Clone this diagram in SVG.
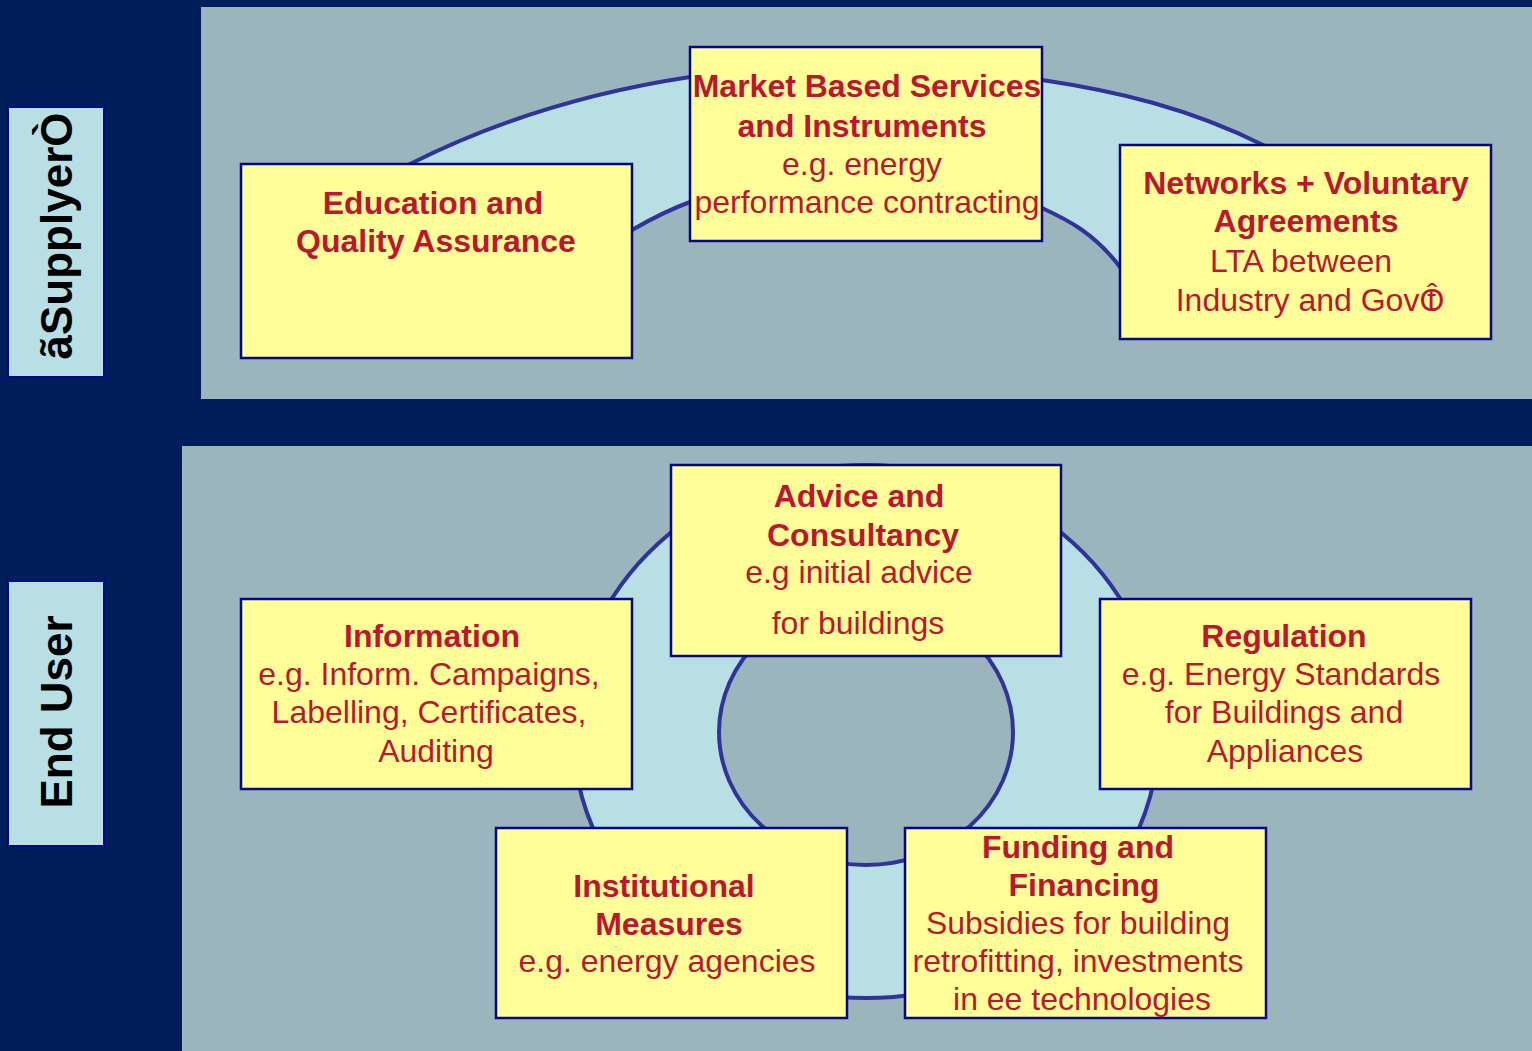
<svg xmlns="http://www.w3.org/2000/svg" width="1532" height="1051" viewBox="0 0 1532 1051">
  <style>
    .panel { fill: #9AB5BC; }
    .tag { fill: #B8DFE3; stroke: #06068C; stroke-width: 2; }
    .tagtext { font-family: "Liberation Sans", Arial, sans-serif; font-weight: bold; font-size: 44px; fill: #000000; }
    .ring { fill: #B8DFE3; stroke: #32339A; stroke-width: 4; stroke-linejoin: round; }
    .box { fill: #FFFF99; stroke: #06068C; stroke-width: 2.5; }
    .t { font-family: "Liberation Sans", Arial, sans-serif; font-size: 32px; fill: #BE1630; text-anchor: middle; }
    .b { font-weight: bold; }
  </style>

  <!-- background and panels -->
  <rect x="0" y="0" width="1532" height="1051" fill="#001E5A"/>
  <rect class="panel" x="201" y="7" width="1331" height="392"/>
  <rect class="panel" x="182" y="446" width="1350" height="605"/>

  <!-- side tags -->
  <g id="tag-supplyer">
    <rect class="tag" x="8" y="107" width="96" height="270"/>
    <text class="tagtext" text-anchor="middle" transform="translate(72,236) rotate(-90)">ãSupplyerÒ</text>
  </g>
  <g id="tag-enduser">
    <rect class="tag" x="8" y="581" width="96" height="265"/>
    <text class="tagtext" text-anchor="middle" transform="translate(72,712) rotate(-90)">End User</text>
  </g>

  <!-- rings behind the boxes -->
  <g id="rings">
    <path class="ring" d="M 370,184 L 412,163 C 505,116.5 597,91 690,77 C 807,59 925,62 1042,80 C 1116,91 1189,108 1263,145 L 1310,170 L 1140,300 L 1120,267 C 1094,233 1068,220 1042,208 C 950,175 780,172 690,202 C 671,209 651,219 632,230 L 580,262 Z"/>
    <path class="ring" fill-rule="evenodd" d="M 573,731.5 A 293,266.5 0 1,0 1159,731.5 A 293,266.5 0 1,0 573,731.5 Z M 719,732 A 147,133 0 1,0 1013,732 A 147,133 0 1,0 719,732 Z"/>
  </g>

  <!-- supplier level -->
  <g id="node-education">
    <rect class="box" x="241" y="164" width="391" height="194"/>
    <text class="t b" x="433" y="214">Education and</text>
    <text class="t b" x="436" y="252">Quality Assurance</text>
  </g>
  <g id="node-market">
    <rect class="box" x="690" y="47" width="352" height="194"/>
    <text class="t b" x="867" y="97">Market Based Services</text>
    <text class="t b" x="862" y="137">and Instruments</text>
    <text class="t" x="862" y="175">e.g. energy</text>
    <text class="t" x="867" y="213">performance contracting</text>
  </g>
  <g id="node-networks">
    <rect class="box" x="1120" y="145" width="371" height="194"/>
    <text class="t b" x="1306" y="194">Networks + Voluntary</text>
    <text class="t b" x="1306" y="232">Agreements</text>
    <text class="t" x="1301" y="272">LTA between</text>
    <text class="t" x="1310" y="311">Industry and GovÔ<tspan dx="-17">t</tspan></text>
  </g>

  <!-- end-user level -->
  <g id="node-advice">
    <rect class="box" x="671" y="465" width="390" height="191"/>
    <text class="t b" x="859" y="507">Advice and</text>
    <text class="t b" x="863" y="546">Consultancy</text>
    <text class="t" x="859" y="583">e.g initial advice</text>
    <text class="t" x="858" y="634">for buildings</text>
  </g>
  <g id="node-information">
    <rect class="box" x="241" y="599" width="391" height="190"/>
    <text class="t b" x="432" y="647">Information</text>
    <text class="t" x="429" y="685">e.g. Inform. Campaigns,</text>
    <text class="t" x="429" y="723">Labelling, Certificates,</text>
    <text class="t" x="436" y="762">Auditing</text>
  </g>
  <g id="node-regulation">
    <rect class="box" x="1100" y="599" width="371" height="190"/>
    <text class="t b" x="1284" y="647">Regulation</text>
    <text class="t" x="1281" y="685">e.g. Energy Standards</text>
    <text class="t" x="1284" y="723">for Buildings and</text>
    <text class="t" x="1285" y="762">Appliances</text>
  </g>
  <g id="node-institutional">
    <rect class="box" x="496" y="828" width="351" height="190"/>
    <text class="t b" x="664" y="897">Institutional</text>
    <text class="t b" x="669" y="935">Measures</text>
    <text class="t" x="667" y="972">e.g. energy agencies</text>
  </g>
  <g id="node-funding">
    <rect class="box" x="905" y="828" width="361" height="190"/>
    <text class="t b" x="1078" y="858">Funding and</text>
    <text class="t b" x="1084" y="896">Financing</text>
    <text class="t" x="1078" y="934">Subsidies for building</text>
    <text class="t" x="1078" y="972">retrofitting, investments</text>
    <text class="t" x="1082" y="1010">in ee technologies</text>
  </g>
</svg>
